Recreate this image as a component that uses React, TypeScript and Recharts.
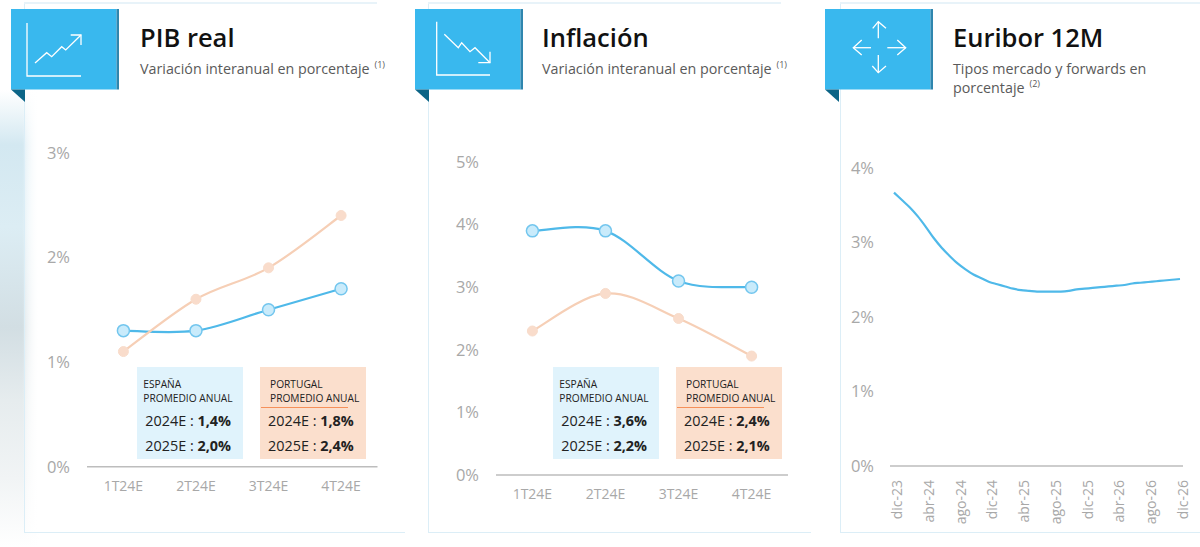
import { LineChart, Line, XAxis, YAxis } from 'recharts'

const FONT = '"Open Sans", sans-serif'

const QUARTERS = ['1T24E', '2T24E', '3T24E', '4T24E']
const PIB_ESPANA = [1.3, 1.3, 1.5, 1.7]
const PIB_PORTUGAL = [1.1, 1.6, 1.9, 2.4]
const INFLACION_ESPANA = [3.9, 3.9, 3.1, 3.0]
const INFLACION_PORTUGAL = [2.3, 2.9, 2.5, 1.9]

const MONTHS = [
  'dic-23', 'ene-24', 'feb-24', 'mar-24', 'abr-24', 'may-24', 'jun-24', 'jul-24', 'ago-24', 'sep-24',
  'oct-24', 'nov-24', 'dic-24', 'ene-25', 'feb-25', 'mar-25', 'abr-25', 'may-25', 'jun-25', 'jul-25',
  'ago-25', 'sep-25', 'oct-25', 'nov-25', 'dic-25', 'ene-26', 'feb-26', 'mar-26', 'abr-26', 'may-26',
  'jun-26', 'jul-26', 'ago-26', 'sep-26', 'oct-26', 'nov-26', 'dic-26',
]
const EURIBOR = [
  3.67, 3.57, 3.47, 3.35, 3.21, 3.06, 2.93, 2.82, 2.72, 2.64,
  2.57, 2.52, 2.47, 2.44, 2.41, 2.38, 2.36, 2.35, 2.34, 2.34,
  2.34, 2.34, 2.35, 2.37, 2.38, 2.39, 2.40, 2.41, 2.42, 2.43,
  2.45, 2.46, 2.47, 2.48, 2.49, 2.50, 2.51,
]

const PIB_TICKS = [0, 1, 2, 3]
const INFLACION_TICKS = [0, 1, 2, 3, 4, 5]
const EURIBOR_TICKS = [0, 1, 2, 3, 4]

const pibData = QUARTERS.map((q, i) => ({ q, espana: PIB_ESPANA[i], portugal: PIB_PORTUGAL[i] }))
const inflacionData = QUARTERS.map((q, i) => ({ q, espana: INFLACION_ESPANA[i], portugal: INFLACION_PORTUGAL[i] }))
const euriborData = MONTHS.map((m, i) => ({ m, value: EURIBOR[i] }))

const BLUE = '#4FB9E9'
const ORANGE = '#F6CFB6'
const GREY = '#A8A8A8'
const AXIS = '#BDBDBD'
const PANEL_LINE = '#DCEEF7'

const blueDot = { r: 6, fill: '#C9EBFB', stroke: '#73C6EE', strokeWidth: 1.5 }
const orangeDot = { r: 5, fill: '#F9DCCB', stroke: '#F8DCCB', strokeWidth: 1 }

// office-style smoothed line: catmull-rom through every point
function smoothCurve(context: any) {
  let pts: number[][] = []
  return {
    areaStart() {},
    areaEnd() {},
    lineStart() {
      pts = []
    },
    point(x: number, y: number) {
      pts.push([+x, +y])
    },
    lineEnd() {
      pts.forEach((p, i) => {
        if (i === 0) {
          context.moveTo(p[0], p[1])
          return
        }
        const p0 = pts[Math.max(i - 2, 0)]
        const p1 = pts[i - 1]
        const p3 = pts[Math.min(i + 1, pts.length - 1)]
        context.bezierCurveTo(
          p1[0] + (p[0] - p0[0]) / 6,
          p1[1] + (p[1] - p0[1]) / 6,
          p[0] - (p3[0] - p1[0]) / 6,
          p[1] - (p3[1] - p1[1]) / 6,
          p[0],
          p[1]
        )
      })
    },
  }
}

function pct(v: number) {
  return `${v}%`
}

function RotatedTick({ x, y, payload }: any) {
  return (
    <text
      transform={`translate(${x + 8},${y + 12}) rotate(-90)`}
      textAnchor="end"
      fontFamily={FONT}
      fontSize={14}
      fill={GREY}
    >
      {payload.value}
    </text>
  )
}

function QuarterChart({ data, ticks, left, top, width, height, marginTop }: any) {
  return (
    <div style={{ position: 'absolute', left, top }}>
      <LineChart width={width} height={height} data={data} margin={{ top: marginTop, right: 20, bottom: 0, left: 0 }}>
        <XAxis
          dataKey="q"
          height={50}
          padding={{ left: 36.4, right: 36.4 }}
          tickLine={false}
          tickSize={0}
          tickMargin={14}
          interval={0}
          axisLine={{ stroke: AXIS, strokeWidth: 1.5 }}
          tick={{ fill: GREY, fontSize: 14, fontFamily: FONT }}
        />
        <YAxis
          width={47}
          domain={[ticks[0], ticks[ticks.length - 1]]}
          ticks={ticks}
          tickFormatter={pct}
          axisLine={false}
          tickLine={false}
          tickSize={0}
          tickMargin={17}
          tick={{ fill: GREY, fontSize: 16.5, fontFamily: FONT }}
        />
        <Line dataKey="espana" type={smoothCurve as any} stroke={BLUE} strokeWidth={2.2} dot={blueDot} isAnimationActive={false} />
        <Line dataKey="portugal" type={smoothCurve as any} stroke={ORANGE} strokeWidth={2.2} dot={orangeDot} isAnimationActive={false} />
      </LineChart>
    </div>
  )
}

function EuriborChart() {
  return (
    <div style={{ position: 'absolute', left: 843, top: 130 }}>
      <LineChart width={357} height={396} data={euriborData} margin={{ top: 38, right: 17, bottom: 0, left: 0 }}>
        <XAxis
          dataKey="m"
          height={60}
          interval={3}
          padding={{ left: 4, right: 3 }}
          tickLine={false}
          tickSize={0}
          axisLine={{ stroke: AXIS, strokeWidth: 1.5 }}
          tick={<RotatedTick />}
        />
        <YAxis
          width={47}
          domain={[0, 4]}
          ticks={EURIBOR_TICKS}
          tickFormatter={pct}
          axisLine={false}
          tickLine={false}
          tickSize={0}
          tickMargin={16}
          tick={{ fill: GREY, fontSize: 16.5, fontFamily: FONT }}
        />
        <Line dataKey="value" type={smoothCurve as any} stroke={BLUE} strokeWidth={2.2} dot={false} isAnimationActive={false} />
      </LineChart>
    </div>
  )
}

function Ribbon({ left, children }: any) {
  return (
    <svg style={{ position: 'absolute', left, top: 0 }} width={120} height={110}>
      <rect x={0} y={9} width={105.5} height={80.5} fill="#39B8EE" />
      <rect x={105.5} y={9} width={2.5} height={80.5} fill="#2F86AE" />
      <polygon points="0,89.5 14,89.5 14,102" fill="#0C6587" />
      <g fill="none" stroke="#FFFFFF" strokeWidth={1.3}>{children}</g>
    </svg>
  )
}

function Heading({ left, title, lines, note }: any) {
  return (
    <div style={{ position: 'absolute', left, top: 0, fontFamily: FONT }}>
      <div style={{ position: 'absolute', top: 19, fontSize: 25.5, lineHeight: '36px', fontWeight: 600, color: '#111', whiteSpace: 'nowrap' }}>
        {title}
      </div>
      <div style={{ position: 'absolute', top: 59, fontSize: 14.3, lineHeight: '19px', color: '#5A5A5A', whiteSpace: 'nowrap' }}>
        {lines.map((line: string, i: number) => (
          <div key={line}>
            {line}
            {i === lines.length - 1 && <sup style={{ fontSize: 9, marginLeft: 5, lineHeight: 0 }}>{note}</sup>}
          </div>
        ))}
      </div>
    </div>
  )
}

function InfoBox({ left, name, a, b, warm }: any) {
  const textLeft = warm ? 10 : 6
  return (
    <div
      style={{
        position: 'absolute',
        left,
        top: 367,
        width: 105.5,
        height: 92,
        background: warm ? '#FBDFCD' : '#E0F3FC',
        fontFamily: FONT,
        color: '#222',
      }}
    >
      <div style={{ position: 'absolute', left: textLeft, top: 11, fontSize: 10.2, lineHeight: '13.5px', whiteSpace: 'nowrap' }}>
        {name}
        <br />
        PROMEDIO ANUAL
      </div>
      {warm && <div style={{ position: 'absolute', left: 1, top: 40, width: 87, height: 1, background: '#F5905A' }} />}
      {[a, b].map((row: string[], i: number) => (
        <div key={row[0]} style={{ position: 'absolute', left: 8, top: 43 + i * 25, fontSize: 14.4, lineHeight: '22px', whiteSpace: 'nowrap' }}>
          {row[0]} : <b>{row[1]}</b>
        </div>
      ))}
    </div>
  )
}

function Panel({ left, width, topWidth }: any) {
  return (
    <>
      <div
        style={{
          position: 'absolute',
          left,
          top: 3,
          width,
          height: 529,
          background: 'linear-gradient(90deg, rgba(255,255,255,0.35) 0px, #FFFFFF 14px)',
          borderLeft: `1.5px solid ${PANEL_LINE}`,
          borderBottom: `1.5px solid ${PANEL_LINE}`,
        }}
      />
      <div style={{ position: 'absolute', left, top: 2, width: topWidth, height: 1.5, background: '#E8F3F9' }} />
    </>
  )
}

export default function App() {
  return (
    <div style={{ position: 'absolute', left: 0, top: 0, width: 1200, height: 547, overflow: 'hidden', background: '#FFFFFF' }}>
      {/* blurred photo behind the first panel */}
      <div
        style={{
          position: 'absolute',
          left: 0,
          top: 90,
          width: 40,
          height: 457,
          background:
            'linear-gradient(90deg, rgba(255,255,255,0) 55%, #FFFFFF 100%), linear-gradient(180deg, #FFFFFF 0%, #D3E8F1 12%, #DCEDF4 30%, #D2DEE3 52%, #E6ECEE 68%, #F1F4F5 85%, #FFFFFF 100%)',
        }}
      />
      <Panel left={24} width={380} topWidth={353} />
      <Panel left={427.5} width={382} topWidth={353} />
      <Panel left={840} width={360} topWidth={360} />

      <Ribbon left={11}>
        <polyline points="16,23 16,76 70,76" />
        <polyline points="24,63 35.7,52.7 40.7,56.7 50.7,46.7 54.7,50 70,35" />
        <polyline points="59.7,35 70,35 70,45" />
      </Ribbon>
      <Ribbon left={415}>
        <polyline points="21.7,21.7 21.7,75 75,75" />
        <polyline points="29.3,34.3 43.3,47.7 46.7,42.7 55,51.7 60,47.7 75,62.7" />
        <polyline points="63.3,62.7 75,62.7 75,51.7" />
      </Ribbon>
      <Ribbon left={825}>
        <polyline points="53.3,38.3 53.3,21.7" />
        <polyline points="47.7,28.3 53.3,21.7 61,28.3" />
        <polyline points="53.3,55 53.3,72.7" />
        <polyline points="47.3,66 53.3,72.7 61,66" />
        <polyline points="46,47.7 28.3,47.7" />
        <polyline points="36.7,40 28.3,47.7 36.7,55" />
        <polyline points="62.3,47.7 80.7,47.7" />
        <polyline points="72.3,40 80.7,47.7 72.3,55" />
      </Ribbon>

      <Heading left={140} title="PIB real" lines={['Variación interanual en porcentaje']} note="(1)" />
      <Heading left={542} title="Inflación" lines={['Variación interanual en porcentaje']} note="(1)" />
      <Heading left={953} title="Euribor 12M" lines={['Tipos mercado y forwards en', 'porcentaje']} note="(2)" />

      <QuarterChart data={pibData} ticks={PIB_TICKS} left={40} top={130} width={357.5} height={386.7} marginTop={22.7} />
      <QuarterChart data={inflacionData} ticks={INFLACION_TICKS} left={449} top={130} width={359} height={395} marginTop={32} />
      <EuriborChart />

      <InfoBox left={137.3} name="ESPAÑA" a={['2024E', '1,4%']} b={['2025E', '2,0%']} />
      <InfoBox left={260} name="PORTUGAL" a={['2024E', '1,8%']} b={['2025E', '2,4%']} warm />
      <InfoBox left={553.3} name="ESPAÑA" a={['2024E', '3,6%']} b={['2025E', '2,2%']} />
      <InfoBox left={676} name="PORTUGAL" a={['2024E', '2,4%']} b={['2025E', '2,1%']} warm />
    </div>
  )
}
